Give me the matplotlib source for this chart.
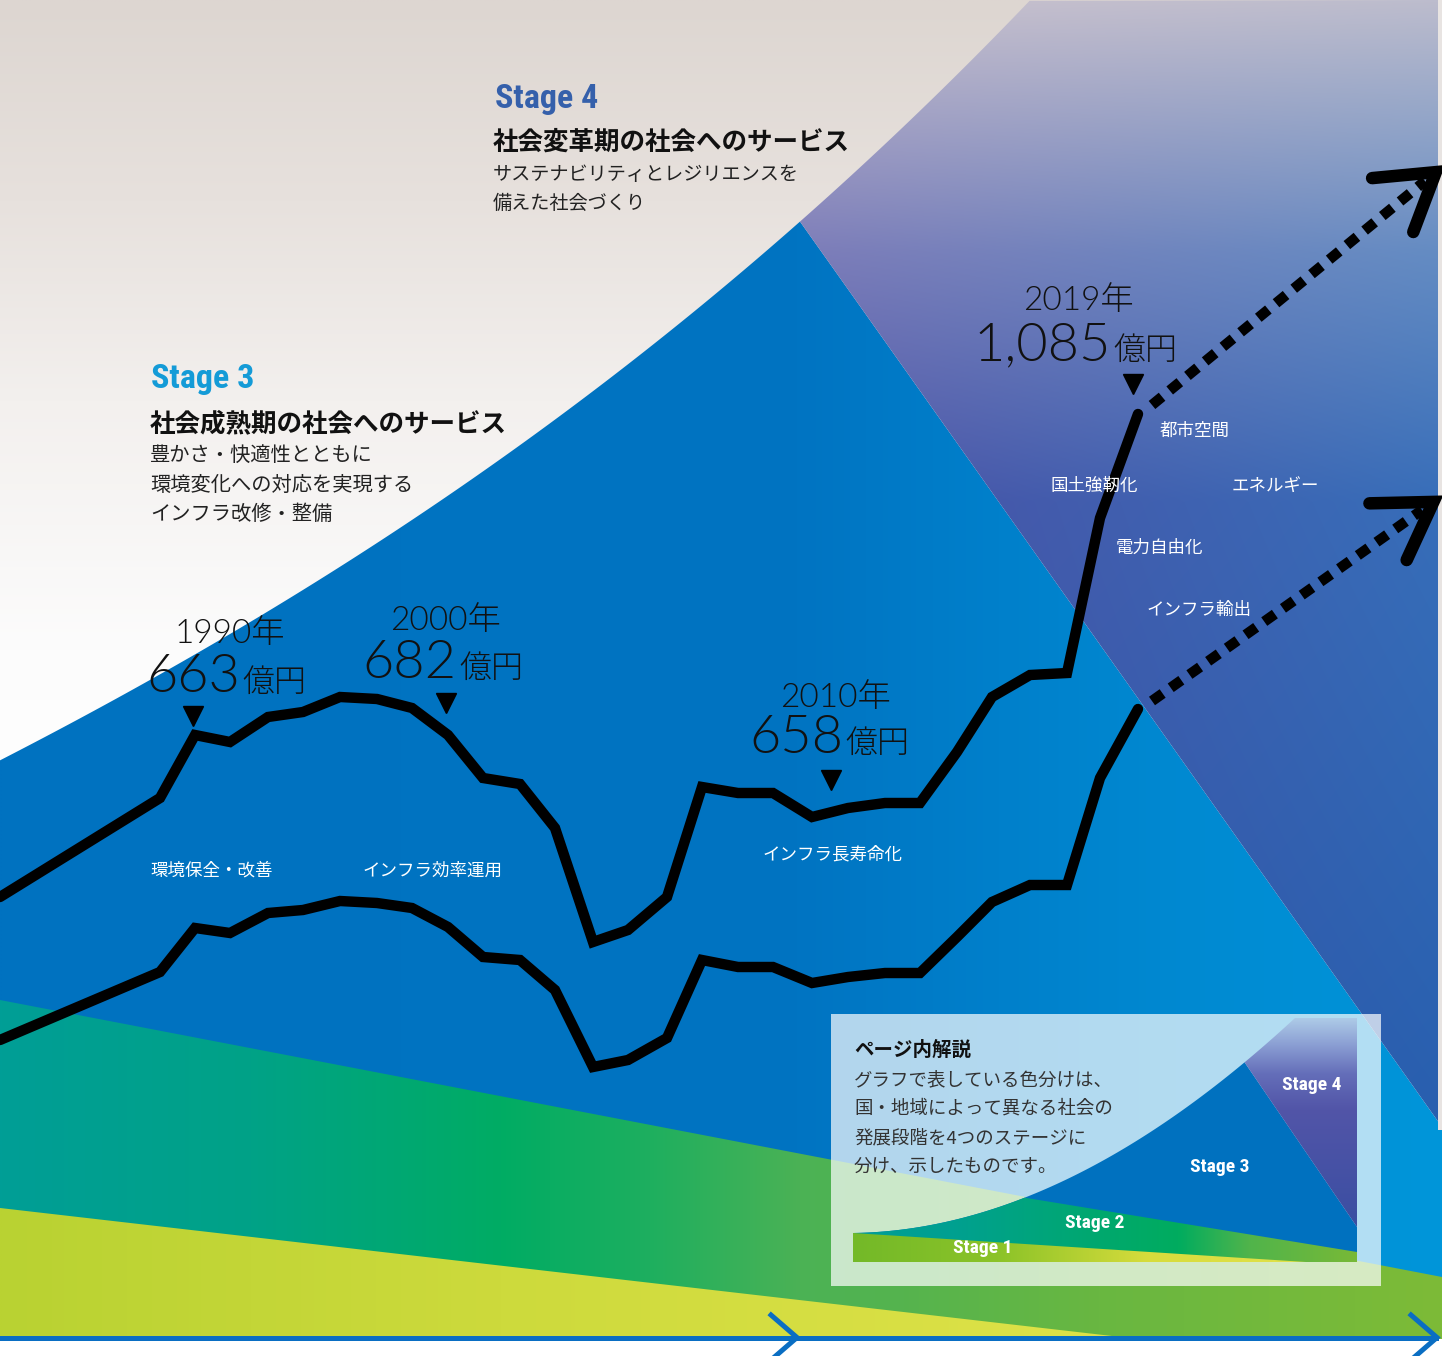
import numpy as np
import matplotlib.pyplot as plt
from matplotlib.patches import Polygon, Rectangle

W, H = 1442, 1356

# ---- data (pixel units, y grows downwards) ----
period_x = [0, 160, 195, 230, 268, 303, 340, 377, 412, 448, 483, 520, 555, 593, 628,
            667, 702, 738, 773, 812, 848, 885, 920, 957, 992, 1030, 1067, 1100, 1138]
upper_y = [897, 798, 735, 742, 717, 712, 697, 699, 708, 735, 778, 784, 828, 942, 930,
           897, 787, 793, 793, 817, 808, 803, 803, 752, 697, 675, 673, 518, 414]
lower_y = [1040, 972, 928, 933, 913, 910, 901, 903, 908, 927, 957, 960, 990, 1067, 1060,
           1038, 960, 967, 967, 983, 977, 973, 973, 937, 902, 885, 885, 778, 709]
upper_ext_x, upper_ext_y = [1152, 1425], [405, 181]
lower_ext_x, lower_ext_y = [1152, 1422], [701, 510]

years = ['1990年', '2000年', '2010年', '2019年']
amounts = ['663', '682', '658', '1,085']
unit = '億円'

area_labels = ['環境保全・改善', 'インフラ効率運用', 'インフラ長寿命化', '都市空間',
               '国土強靭化', 'エネルギー', '電力自由化', 'インフラ輸出']

stage4_lines = ['サステナビリティとレジリエンスを', '備えた社会づくり']
stage3_lines = ['豊かさ・快適性とともに', '環境変化への対応を実現する', 'インフラ改修・整備']
note_lines = ['グラフで表している色分けは、', '国・地域によって異なる社会の',
              '発展段階を4つのステージに', '分け、示したものです。']

# stage boundaries
curve_pts_x = [0, 120, 320, 579, 800, 1030]
curve_pts_y = [760, 697, 580, 400, 223, 0]
split34_end = (1442, 1127)
stage2_edge = [(0, 1000), (1442, 1277)]
stage1_edge = [(0, 1208), (1112, 1336)]

JP = ['Noto Sans CJK JP', 'DejaVu Sans']
NARROW = ['Roboto Condensed', 'Roboto', 'DejaVu Sans']
NUM = ['Lato', 'Noto Sans CJK JP']

fig = plt.figure(figsize=(W / 100, H / 100), dpi=100)
ax = fig.add_axes([0, 0, 1, 1])
ax.axis('off')

xs = np.linspace(0, W, 361)
ys = np.linspace(0, H, 339)


def hgrad(stops, cols):
    cols = np.array(cols) / 255.
    row = np.stack([np.interp(xs, stops, cols[:, i]) for i in range(3)], -1)
    return np.repeat(row[None], len(ys), 0)


def vgrad(stops, cols):
    cols = np.array(cols) / 255.
    col = np.stack([np.interp(ys, stops, cols[:, i]) for i in range(3)], -1)
    return np.repeat(col[:, None], len(xs), 1)


def grad_fill(img, pts, z):
    p = Polygon(pts, closed=True, fc='none', ec='none')
    ax.add_patch(p)
    im = ax.imshow(img, extent=(0, W, H, 0), interpolation='bilinear',
                   zorder=z, aspect='auto')
    im.set_clip_path(p)


# ---- background stages ----
coef = np.polyfit(curve_pts_x, curve_pts_y, 3)
cx = np.linspace(0, 1040, 300)
cy = np.polyval(coef, cx)
keep = cy >= 0
cx, cy = cx[keep], cy[keep]
y800 = np.polyval(coef, 800)

light = vgrad([0, 200, 400, 650, 800],
              [(221, 214, 209), (231, 225, 221), (243, 240, 238), (252, 252, 252), (255, 255, 255)])
grad_fill(light, [(0, 0), (W, 0), (W, H), (0, H)], 1)

blue = hgrad([0, 800, 1000, 1442], [(0, 114, 192), (0, 116, 194), (0, 128, 203), (0, 150, 218)])
left3 = cx <= 800
pts3 = list(zip(cx[left3], cy[left3])) + [(800, y800), split34_end, (W, H), (0, H)]
grad_fill(blue, pts3, 2)

st = [0, 250, 500, 1135, H]
left4 = vgrad(st, [(200, 192, 205), (125, 125, 185), (75, 80, 165), (55, 75, 160), (55, 75, 160)])
right4 = vgrad(st, [(188, 188, 205), (100, 140, 195), (55, 110, 185), (40, 95, 175), (40, 95, 175)])
t = np.clip((xs - 800) / 642., 0, 1)[None, :, None]
purple = left4 * (1 - t) + right4 * t
right_c = cx >= 800
pts4 = [(800, y800)] + list(zip(cx[right_c], cy[right_c])) + [(W, 0), split34_end]
grad_fill(purple, pts4, 3)

green = hgrad([0, 250, 500, 650, 800, 1100, 1442],
              [(0, 158, 150), (0, 162, 135), (0, 172, 100), (30, 175, 95), (75, 178, 85),
               (105, 183, 65), (125, 187, 55)])
grad_fill(green, [stage2_edge[0], stage2_edge[1], (W, H), (0, H)], 4)

yellow = hgrad([0, 500, 1100], [(185, 210, 50), (205, 218, 60), (222, 226, 72)])
grad_fill(yellow, [stage1_edge[0], stage1_edge[1], (0, stage1_edge[1][1])], 5)

ax.add_patch(Rectangle((0, 1339), W, 20, fc='white', ec='none', zorder=6))
ax.add_patch(Rectangle((1438, 0), 4, 1130, fc='#e8e4e2', ec='none', zorder=6))

# time axis
ax.plot([0, 1436], [1337.5, 1337.5], color='#0a6ec3', lw=3.6, zorder=7)
for vx in [797, 1437]:
    ax.plot([vx - 26, vx, vx - 26], [1315, 1337.5, 1360], color='#0a6ec3', lw=3.6,
            solid_joinstyle='miter', zorder=7)

# ---- revenue lines ----
for yv, ex, ey in [(upper_y, upper_ext_x, upper_ext_y), (lower_y, lower_ext_x, lower_ext_y)]:
    ax.plot(period_x, yv, color='black', lw=7.5, solid_joinstyle='miter',
            solid_capstyle='round', zorder=10)
    ax.plot(ex, ey, color='black', lw=7.5, dashes=(1.25, 0.95), dash_capstyle='butt',
            zorder=10)
    d = np.array([ex[1] - ex[0], ey[1] - ey[0]], float)
    d /= np.hypot(*d)
    tip = np.array([ex[1], ey[1]]) + d * 14
    arms = []
    for ang in (34, -30):
        a = np.radians(ang)
        r = np.array([[np.cos(a), -np.sin(a)], [np.sin(a), np.cos(a)]]) @ (-d)
        arms.append(tip + r * 64)
    ax.plot([arms[0][0], tip[0], arms[1][0]], [arms[0][1], tip[1], arms[1][1]],
            color='black', lw=9, solid_capstyle='round', solid_joinstyle='miter', zorder=10)

# milestone labels
mark_x = [193, 446, 831, 1133]
mark_y = [716, 703, 780, 384]
year_x = [175, 390, 780, 1023]
year_base = [643, 630, 707, 310]
amt_x = [240, 457, 843, 1111]
amt_base = [692, 678, 753, 360]
ax.plot(mark_x, mark_y, ls='none', marker='v', ms=14, color='black', zorder=11)
for i in range(4):
    ax.text(year_x[i], year_base[i], years[i], fontsize=24, family=NUM, weight=300,
            va='baseline', ha='left', color='#111111', zorder=11)
    ax.text(amt_x[i], amt_base[i], amounts[i], fontsize=39, family=NUM, weight=300,
            va='baseline', ha='right', color='#111111', zorder=11)
    ax.text(amt_x[i] + 2, amt_base[i], unit, fontsize=23, family=JP, weight=300,
            va='baseline', ha='left', color='#111111', zorder=11)

lab_x = [150, 362, 762, 1160, 1050, 1232, 1116, 1146]
lab_y = [876, 876, 859, 436, 491, 491, 553, 615]
for s, x, y in zip(area_labels, lab_x, lab_y):
    ax.text(x, y, s, fontsize=12.6, family=JP, color='white', va='baseline', zorder=11)

# stage headings
ax.text(495, 108, 'Stage 4', fontsize=24.5, family=NARROW, weight='bold', color='#3560ab',
        va='baseline', zorder=11)
ax.text(493, 150, '社会変革期の社会へのサービス', fontsize=18.4, family=JP, weight='bold',
        color='#111111', va='baseline', zorder=11)
for k, s in enumerate(stage4_lines):
    ax.text(493, 180 + 28.5 * k, s, fontsize=13.8, family=JP, color='#222222',
            va='baseline', zorder=11)
ax.text(151, 388, 'Stage 3', fontsize=24.5, family=NARROW, weight='bold', color='#149bd7',
        va='baseline', zorder=11)
ax.text(150, 431, '社会成熟期の社会へのサービス', fontsize=18.4, family=JP, weight='bold',
        color='#111111', va='baseline', zorder=11)
for k, s in enumerate(stage3_lines):
    ax.text(150, 461 + 29.5 * k, s, fontsize=14.6, family=JP, color='#222222',
            va='baseline', zorder=11)

# ---- explanatory inset ----
ax.add_patch(Rectangle((831, 1014), 550, 272, fc='white', alpha=0.7, ec='none', zorder=12))

tt = np.linspace(0, 1, 200)
P0, P1, P2 = np.array([853, 1233]), np.array([1066, 1230]), np.array([1295, 1018])
bz = ((1 - tt)[:, None] ** 2) * P0 + (2 * (1 - tt) * tt)[:, None] * P1 + (tt[:, None] ** 2) * P2


def cut(p, q):
    # index of the bezier sample nearest the line p-q
    px, py = p
    qx, qy = q
    f = (qx - px) * (bz[:, 1] - py) - (qy - py) * (bz[:, 0] - px)
    return int(np.argmin(np.abs(f)))


m_right, m_bottom, m_top = 1357, 1262, 1018
s34 = [(1247, 1068), (1357, 1227)]
s2 = [(1022, 1197), (1357, 1252)]
i34 = cut(*s34)
i2 = cut(*s2)

mini3 = [tuple(v) for v in bz[:i34 + 1]] + [s34[1], (m_right, m_bottom), (853, m_bottom)]
ax.add_patch(Polygon(mini3, closed=True, fc='#0071bf', ec='none', zorder=13))
mini4_img = vgrad([1018, 1045, 1075, 1110, 1230, H],
                  [(175, 205, 232), (140, 160, 212), (100, 110, 185), (82, 85, 168),
                   (58, 78, 162), (58, 78, 162)])
mini4 = [tuple(v) for v in bz[i34:]] + [(m_right, m_top), s34[1]]
grad_fill(mini4_img, mini4, 13)
mini2_img = hgrad([853, 950, 1100, 1180, 1250, 1357],
                  [(0, 158, 150), (0, 160, 145), (0, 168, 110), (0, 172, 95), (80, 180, 75),
                   (120, 185, 55)])
mini2 = [tuple(v) for v in bz[:i2 + 1]] + [s2[1], (m_right, m_bottom), (853, m_bottom)]
grad_fill(mini2_img, mini2, 14)
mini1_img = hgrad([853, 1000, 1150, 1306], [(115, 185, 40), (140, 195, 40), (215, 220, 60),
                                            (225, 225, 75)])
grad_fill(mini1_img, [(853, 1233), (1306, m_bottom), (853, m_bottom)], 15)

for s, x, y in [('Stage 4', 1282, 1090), ('Stage 3', 1190, 1172), ('Stage 2', 1065, 1228),
                ('Stage 1', 953, 1253)]:
    ax.text(x, y, s, fontsize=14, family=NARROW, weight='bold', color='white',
            va='baseline', zorder=16)

ax.text(854, 1056, 'ページ内解説', fontsize=14, family=JP, weight='bold', color='#111111',
        va='baseline', zorder=16)
for k, s in enumerate(note_lines):
    ax.text(854, 1085 + 29 * k, s, fontsize=13.3, family=JP, color='#333333',
            va='baseline', zorder=16)

ax.set_xlim(0, W)
ax.set_ylim(H, 0)
fig.savefig('out.png', dpi=100)
